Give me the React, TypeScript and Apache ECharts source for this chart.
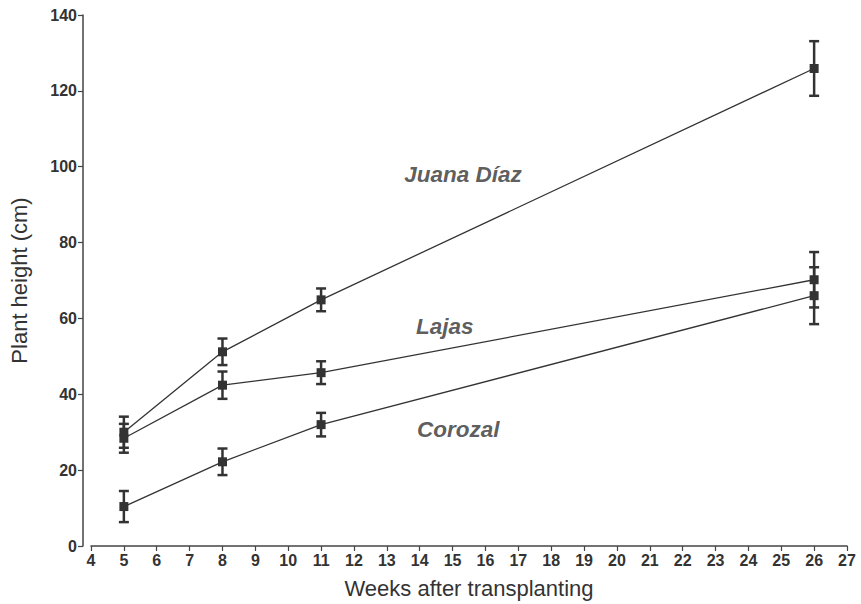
import React, { useEffect, useRef } from "react";
import * as echarts from "echarts";

const weeks = [5, 8, 11, 26];
const juanaDiaz = [30.0, 51.2, 64.9, 125.9];
const juanaDiazErr = [4.1, 3.5, 3.0, 7.2];
const lajas = [28.4, 42.4, 45.7, 70.2];
const lajasErr = [3.8, 3.6, 3.0, 7.3];
const corozal = [10.4, 22.2, 32.0, 66.0];
const corozalErr = [4.1, 3.5, 3.1, 7.5];

const seriesNames = ["Juana Díaz", "Lajas", "Corozal"];
// label anchor positions in data units (week, cm)
const labelWeeks = [13.53, 13.89, 13.92];
const labelHeights = [98.0, 58.0, 30.8];

const INK = "#333333";
const FONT = "'Liberation Sans', Arial, Helvetica, sans-serif";

export default function App() {
  const ref = useRef<HTMLDivElement>(null);
  useEffect(() => {
    if (!ref.current) return;
    const chart = echarts.init(ref.current, undefined, { renderer: "svg" });
    const groups = [
      { name: seriesNames[0], vals: juanaDiaz, errs: juanaDiazErr },
      { name: seriesNames[1], vals: lajas, errs: lajasErr },
      { name: seriesNames[2], vals: corozal, errs: corozalErr },
    ];
    const series: any[] = [];
    groups.forEach((g) => {
      series.push({
        type: "custom",
        name: g.name + " error",
        z: 2,
        data: weeks.map((w, i) => [w, g.vals[i] - g.errs[i], g.vals[i] + g.errs[i]]),
        renderItem: (params: any, api: any) => {
          const x = api.value(0);
          const lo = api.coord([x, api.value(1)]);
          const hi = api.coord([x, api.value(2)]);
          const half = 5;
          const style = { stroke: INK, lineWidth: 2.5 };
          return {
            type: "group",
            children: [
              { type: "line", shape: { x1: lo[0], y1: lo[1], x2: hi[0], y2: hi[1] }, style },
              { type: "line", shape: { x1: lo[0] - half, y1: lo[1], x2: lo[0] + half, y2: lo[1] }, style },
              { type: "line", shape: { x1: hi[0] - half, y1: hi[1], x2: hi[0] + half, y2: hi[1] }, style },
            ],
          };
        },
        silent: true,
      });
      series.push({
        type: "line",
        name: g.name,
        z: 3,
        data: weeks.map((w, i) => [w, g.vals[i]]),
        symbol: "rect",
        symbolSize: 9,
        itemStyle: { color: INK },
        lineStyle: { color: INK, width: 1.3 },
      });
    });
    series.push({
      type: "scatter",
      name: "labels",
      z: 4,
      symbolSize: 0,
      data: seriesNames.map((n, i) => ({ value: [labelWeeks[i], labelHeights[i]], name: n })),
      label: {
        show: true,
        position: "right",
        distance: 0,
        formatter: (p: any) => p.name,
        fontFamily: FONT,
        fontWeight: "bold",
        fontStyle: "italic",
        fontSize: 22.5,
        color: INK,
      },
      silent: true,
    });

    chart.setOption({
      animation: false,
      backgroundColor: "#ffffff",
      grid: { left: 89, right: 14, top: 15, bottom: 54, containLabel: false },
      xAxis: {
        type: "value",
        min: 4,
        max: 27,
        interval: 1,
        name: "Weeks after transplanting",
        nameLocation: "middle",
        nameGap: 31,
        nameTextStyle: { fontFamily: FONT, fontSize: 22, color: INK },
        axisLine: { show: true, onZero: false, lineStyle: { color: "#444", width: 1.5 } },
        axisTick: { show: true, length: 5, lineStyle: { color: "#444", width: 1.2 } },
        axisLabel: { fontFamily: FONT, fontWeight: "bold", fontSize: 16, color: INK, margin: 6 },
        splitLine: { show: false },
      },
      yAxis: {
        type: "value",
        min: 0,
        max: 140,
        interval: 20,
        offset: 8,
        name: "Plant height (cm)",
        nameLocation: "middle",
        nameGap: 53,
        nameTextStyle: { fontFamily: FONT, fontSize: 22, color: INK },
        axisLine: { show: true, lineStyle: { color: "#444", width: 1.5 } },
        axisTick: { show: true, length: 5, lineStyle: { color: "#444", width: 1.2 } },
        axisLabel: { fontFamily: FONT, fontWeight: "bold", fontSize: 16, color: INK, margin: 6 },
        splitLine: { show: false },
      },
      series,
    });
    return () => chart.dispose();
  }, []);
  return <div ref={ref} style={{ width: 861, height: 604, position: "absolute", left: 0, top: 0 }} />;
}
